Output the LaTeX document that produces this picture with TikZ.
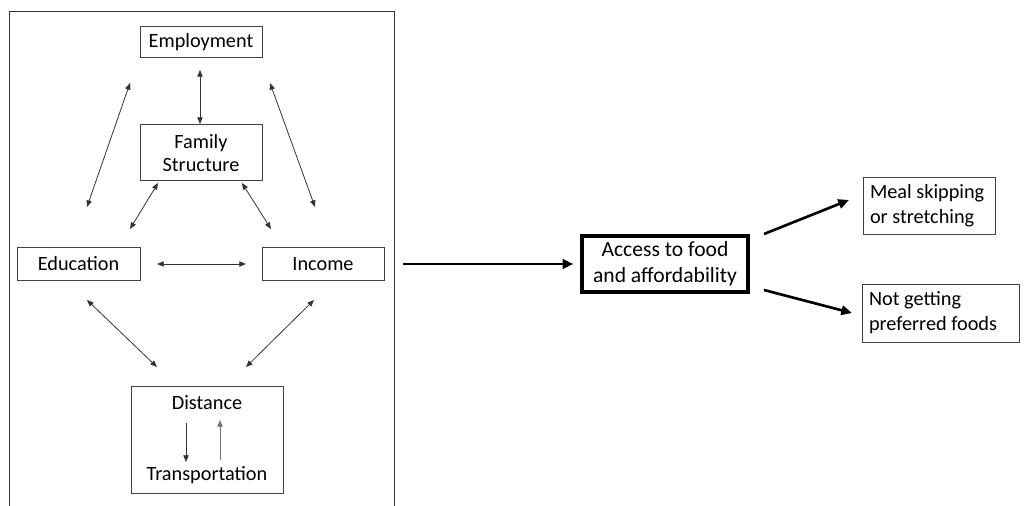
\documentclass[tikz,border=0pt]{standalone}
\usepackage{fontspec}
\setmainfont{Carlito}
\usetikzlibrary{arrows.meta}
\begin{document}
\begin{tikzpicture}[x=0.75pt,y=-0.75pt,
  lfont/.style={font=\fontsize{15.2}{17.3}\selectfont},
  box/.style={draw=black!75, line width=0.75pt, fill=white, inner sep=0pt, align=center, lfont},
  rbox/.style={draw=black!75, line width=0.75pt, inner sep=0pt, text width=#1, align=flush left, font=\fontsize{15.2}{18.8}\selectfont},
  thin/.style={draw=black!80, line width=0.6pt, {Triangle[length=5pt,width=4pt]}-{Triangle[length=5pt,width=4pt]}},
  onearr/.style={draw=black!80, line width=0.6pt, -{Triangle[length=5pt,width=4pt]}},
  thick/.style={draw=black, line width=2pt, -{Triangle[length=8pt,width=7pt]}}]
\useasboundingbox (0,0) rectangle (1024,506);
% frame
\draw[black!80, line width=0.75pt] (9,520) -- (9,12) -- (394,12) -- (394,520);
% left nodes
\node[box, minimum width=122*0.75pt, minimum height=31*0.75pt] (emp) at (201,42.5) {Employment};
\node[box, minimum width=122*0.75pt, minimum height=56*0.75pt] (fam) at (201,153) {Family\\Structure};
\node[box, minimum width=123*0.75pt, minimum height=33*0.75pt] (edu) at (78.5,264) {\vphantom{d}Education};
\node[box, minimum width=122*0.75pt, minimum height=33*0.75pt] (inc) at (323,264) {\vphantom{d}Income};
\node[draw=black!75, line width=0.75pt, minimum width=152*0.75pt, minimum height=107*0.75pt] (dt) at (207,439.5) {};
\node[lfont, inner sep=0pt] (dist) at (207,403) {Distance};
\node[lfont, inner sep=0pt] (trans) at (207,475) {Transportation};
% connector end points
\coordinate (ef1) at (200,70);   \coordinate (ef2) at (200,124);
\coordinate (ee1) at (130,83);   \coordinate (ee2) at (87,207);
\coordinate (ei1) at (270,83);   \coordinate (ei2) at (315,207);
\coordinate (fe1) at (158,183);  \coordinate (fe2) at (130,229);
\coordinate (fi1) at (242,183);  \coordinate (fi2) at (271,229);
\coordinate (ei3) at (157,264);  \coordinate (ei4) at (246,264);
\coordinate (ed1) at (87,300);   \coordinate (ed2) at (157,367);
\coordinate (id1) at (314,300);  \coordinate (id2) at (246,367);
\coordinate (dt1) at (186,423);  \coordinate (dt2) at (186,462);
\coordinate (td1) at (220,460);  \coordinate (td2) at (220,420);
\draw[thin] (ef1) -- (ef2);
\draw[thin] (ee1) -- (ee2);
\draw[thin] (ei1) -- (ei2);
\draw[thin] (fe1) -- (fe2);
\draw[thin] (fi1) -- (fi2);
\draw[thin] (ei3) -- (ei4);
\draw[thin] (ed1) -- (ed2);
\draw[thin] (id1) -- (id2);
\draw[onearr] (dt1) -- (dt2);
\draw[onearr, draw=black!55] (td1) -- (td2);
% right part
\node[draw=black, line width=3pt, minimum width=166*0.75pt, minimum height=56*0.75pt, inner sep=0pt, align=center, font=\fontsize{16.2}{19.5}\selectfont] (acc) at (665,263.5) {Access to food\\and affordability};
\node[rbox=118*0.75pt, minimum height=56*0.75pt, inner xsep=7*0.75pt] (meal) at (929,206) {Meal skipping\\or stretching};
\node[rbox=143*0.75pt, minimum height=58*0.75pt, inner xsep=7*0.75pt] (notg) at (940.5,313) {Not getting\\preferred foods};
\coordinate (m1) at (403,264);
\draw[thick, shorten >=5pt] (m1) -- (m1 -| acc.west);
\coordinate (u1) at (764,234); \coordinate (u2) at (849,200);
\coordinate (l1) at (764,290); \coordinate (l2) at (852,313);
\draw[thick] (u1) -- (u2);
\draw[thick] (l1) -- (l2);
\end{tikzpicture}
\end{document}
